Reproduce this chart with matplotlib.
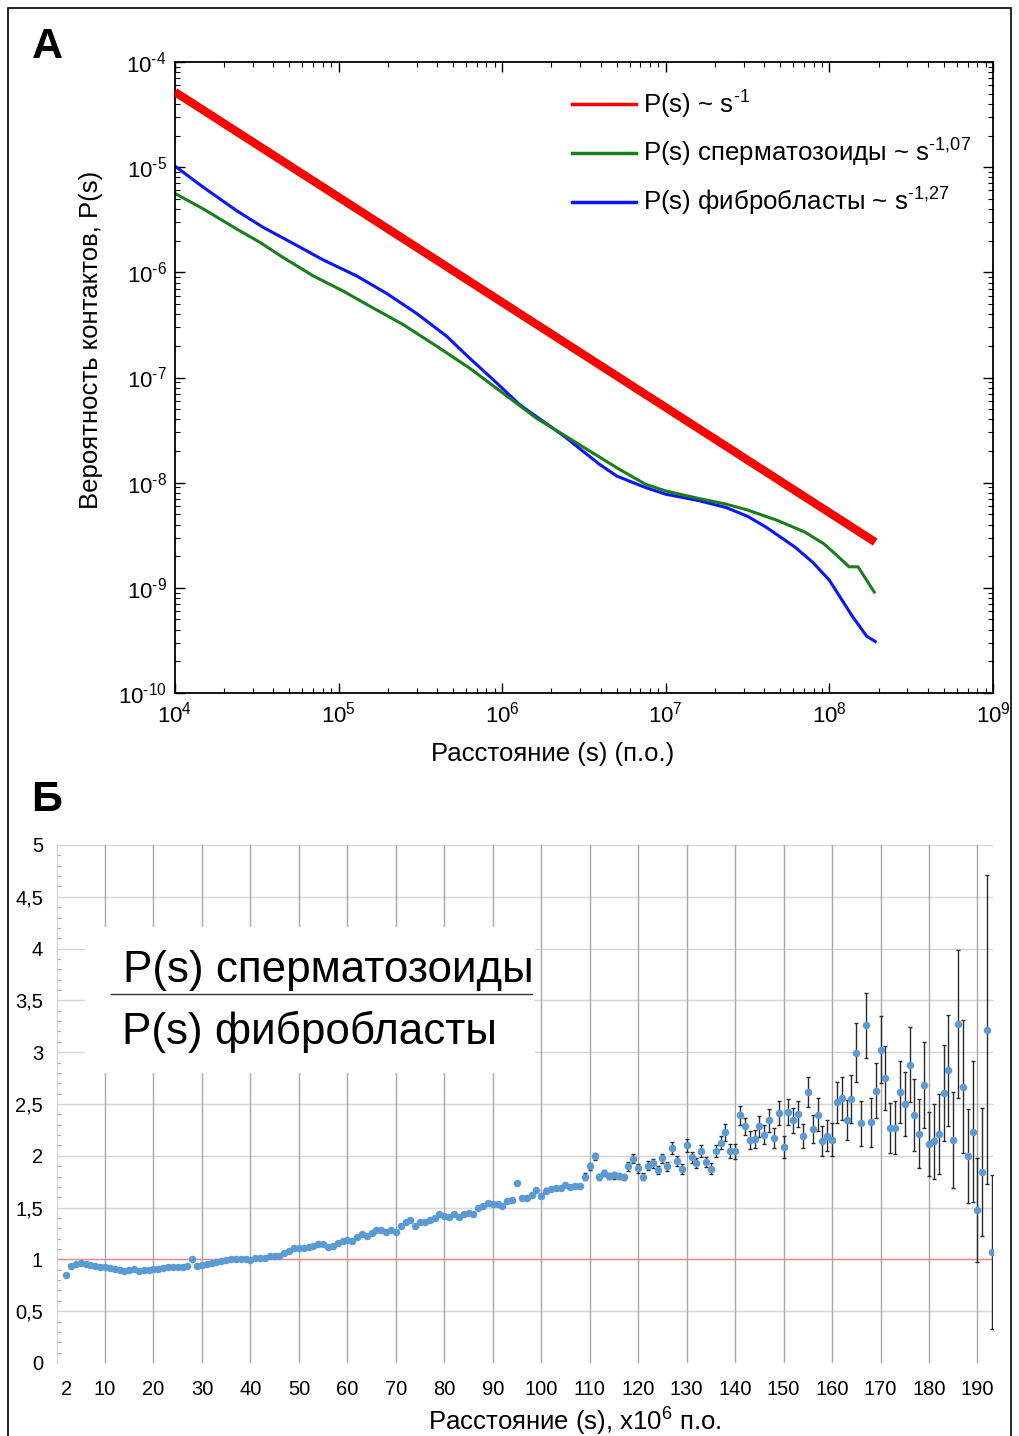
import numpy as np
import matplotlib
matplotlib.use('Agg')
import matplotlib.pyplot as plt
from matplotlib.patches import Rectangle
from matplotlib.lines import Line2D
from matplotlib.ticker import LogLocator, MultipleLocator, NullFormatter, FuncFormatter

plt.rcParams['font.family'] = ['Liberation Sans', 'DejaVu Sans']
plt.rcParams['mathtext.fontset'] = 'custom'
plt.rcParams['mathtext.rm'] = 'Liberation Sans'
plt.rcParams['mathtext.it'] = 'Liberation Sans'
plt.rcParams['mathtext.default'] = 'regular'
plt.rcParams['axes.unicode_minus'] = False

# ---- panel A: P(s) curves (log10 values) ----
red_log_s = [4.0, 8.28]
red_log_p = [-4.285, -8.565]

sperm_log_s = [4.0, 4.173, 4.377, 4.52, 4.662, 4.845, 5.028, 5.19, 5.394, 5.60,
               5.80, 6.005, 6.21, 6.38, 6.70, 6.877, 7.0, 7.2, 7.368, 7.5,
               7.684, 7.85, 7.965, 8.035, 8.12, 8.175, 8.274]
sperm_log_p = [-5.25, -5.397, -5.588, -5.716, -5.86, -6.034, -6.178, -6.321, -6.496, -6.703,
               -6.91, -7.149, -7.388, -7.55, -7.858, -8.016, -8.079, -8.15, -8.204, -8.26,
               -8.36, -8.47, -8.58, -8.676, -8.80, -8.80, -9.04]

fibro_log_s = [4.0, 4.173, 4.377, 4.54, 4.723, 4.906, 5.11, 5.293, 5.476, 5.66,
               5.80, 5.945, 6.108, 6.38, 6.596, 6.70, 6.877, 7.0, 7.2, 7.368,
               7.5, 7.614, 7.79, 7.9, 8.0, 8.14, 8.228, 8.28]
fibro_log_p = [-4.99, -5.191, -5.414, -5.573, -5.726, -5.882, -6.034, -6.2, -6.39, -6.607,
               -6.815, -7.021, -7.26, -7.56, -7.827, -7.937, -8.047, -8.11, -8.17, -8.236,
               -8.32, -8.424, -8.613, -8.76, -8.928, -9.27, -9.46, -9.51]

# ---- panel B: ratio sperm / fibroblasts, one point per Mb (2..193) ----
ratio_x = np.arange(2, 194)
ratio = [0.85, 0.935, 0.96, 0.97, 0.96, 0.945, 0.935, 0.93, 0.926,              # 2-10
         0.92, 0.91, 0.897, 0.89, 0.897, 0.906, 0.89, 0.90, 0.90, 0.91,          # 11-20
         0.906, 0.916, 0.926, 0.923, 0.926, 0.93, 0.94, 1.0, 0.94, 0.945,        # 21-30
         0.955, 0.968, 0.975, 0.987, 0.997, 1.0, 1.0, 1.003, 1.003, 0.994,       # 31-40
         1.013, 1.016, 1.013, 1.03, 1.035, 1.032, 1.058, 1.084, 1.106, 1.11,     # 41-50
         1.11, 1.123, 1.13, 1.148, 1.148, 1.123, 1.13, 1.16, 1.175, 1.187,       # 51-60
         1.178, 1.218, 1.242, 1.226, 1.252, 1.284, 1.284, 1.268, 1.28, 1.268,    # 61-70
         1.326, 1.365, 1.38, 1.323, 1.36, 1.365, 1.38, 1.403, 1.435, 1.42,       # 71-80
         1.406, 1.435, 1.413, 1.439, 1.45, 1.439, 1.497, 1.52, 1.548, 1.535,     # 81-90
         1.535, 1.516, 1.568, 1.574, 1.735, 1.597, 1.594, 1.623, 1.671, 1.616,   # 91-100
         1.665, 1.68, 1.687, 1.687, 1.716, 1.697, 1.706, 1.712, 1.8, 1.897,      # 101-110
         1.994, 1.793, 1.836, 1.806, 1.81, 1.806, 1.798, 1.897, 1.972, 1.878,    # 111-120
         1.8, 1.906, 1.926, 1.865, 1.974, 1.897, 2.074, 1.952, 1.871, 2.1,       # 121-130
         1.984, 1.929, 2.048, 1.942, 1.877, 2.048, 2.126, 2.226, 2.048, 2.042,   # 131-140
         2.39, 2.284, 2.155, 2.165, 2.284, 2.203, 2.342, 2.171, 2.413, 2.082,    # 141-150
         2.42, 2.342, 2.406, 2.19, 2.616, 2.26, 2.395, 2.145, 2.194, 2.155,      # 151-160
         2.516, 2.555, 2.342, 2.548, 2.997, 2.313, 3.258, 2.323, 2.63, 3.026,    # 161-170
         2.75, 2.27, 2.27, 2.616, 2.5, 2.88, 2.397, 2.213, 2.687, 2.113,         # 171-180
         2.139, 2.21, 2.606, 2.826, 2.152, 3.274, 2.668, 2.0, 2.232, 1.477,      # 181-190
         1.845, 3.216, 1.071]                                                    # 191-193
ratio_err = [0.01, 0.01, 0.01, 0.01, 0.01, 0.01, 0.01, 0.01, 0.01,
             0.01, 0.01, 0.01, 0.01, 0.01, 0.01, 0.01, 0.01, 0.01, 0.01,
             0.01, 0.01, 0.01, 0.01, 0.01, 0.01, 0.01, 0.01, 0.01, 0.01,
             0.01, 0.01, 0.01, 0.01, 0.01, 0.01, 0.01, 0.01, 0.01, 0.01,
             0.01, 0.01, 0.01, 0.01, 0.01, 0.01, 0.01, 0.01, 0.01, 0.01,
             0.01, 0.01, 0.01, 0.01, 0.01, 0.01, 0.01, 0.01, 0.01, 0.01,
             0.015, 0.015, 0.015, 0.015, 0.015, 0.015, 0.015, 0.015, 0.015, 0.015,
             0.015, 0.015, 0.015, 0.015, 0.015, 0.015, 0.015, 0.015, 0.015, 0.015,
             0.015, 0.015, 0.015, 0.015, 0.015, 0.015, 0.015, 0.015, 0.015, 0.015,
             0.015, 0.015, 0.015, 0.015, 0.015, 0.015, 0.015, 0.015, 0.015, 0.015,
             0.02, 0.02, 0.02, 0.02, 0.02, 0.02, 0.02, 0.02, 0.03, 0.03,
             0.035, 0.03, 0.03, 0.03, 0.03, 0.03, 0.03, 0.04, 0.045, 0.04,
             0.035, 0.04, 0.04, 0.04, 0.045, 0.045, 0.055, 0.05, 0.05, 0.06,
             0.05, 0.05, 0.055, 0.05, 0.05, 0.06, 0.065, 0.08, 0.07, 0.07,
             0.095, 0.085, 0.085, 0.085, 0.1, 0.09, 0.11, 0.1, 0.12, 0.105,
             0.124, 0.121, 0.126, 0.116, 0.145, 0.132, 0.16, 0.145, 0.152, 0.161,
             0.197, 0.21, 0.192, 0.23, 0.282, 0.219, 0.316, 0.239, 0.268, 0.319,
             0.306, 0.239, 0.255, 0.303, 0.306, 0.365, 0.348, 0.331, 0.415, 0.31,
             0.365, 0.384, 0.466, 0.537, 0.466, 0.715, 0.64, 0.453, 0.682, 0.502,
             0.619, 1.49, 0.747]

x_ticks_b = [2, 10, 20, 30, 40, 50, 60, 70, 80, 90, 100,
             110, 120, 130, 140, 150, 160, 170, 180, 190]
y_ticks_b = [0, 0.5, 1, 1.5, 2, 2.5, 3, 3.5, 4, 4.5, 5]


def pow10_label(v, pos):
    e = int(round(np.log10(v)))
    if e < 0:
        return r'10$^{\text{-%d}}$' % (-e)
    return r'10$^{%d}$' % e


W, H = 1019, 1436
fig = plt.figure(figsize=(W / 100, H / 100), dpi=100)

# outer frame
fig.patches.append(Rectangle((8 / W, -0.01), (1011 - 8) / W, 1.01 - 8 / H,
                             transform=fig.transFigure, fill=False,
                             edgecolor='black', lw=1.2))

# ================= panel A =================
ax1 = fig.add_axes([175 / W, 1 - 693 / H, (993 - 175) / W, (693 - 62) / H])
ax1.set_xscale('log')
ax1.set_yscale('log')

ax1.plot(10 ** np.array(red_log_s), 10 ** np.array(red_log_p),
         color='#ff0000', lw=6, solid_capstyle='butt', zorder=3)
ax1.plot(10 ** np.array(fibro_log_s), 10 ** np.array(fibro_log_p),
         color='#0a14ff', lw=2.2, zorder=2)
ax1.plot(10 ** np.array(sperm_log_s), 10 ** np.array(sperm_log_p),
         color='#1a7f1a', lw=2.2, zorder=2.1)

ax1.set_xlim(1e4, 1e9)
ax1.set_ylim(1e-10, 1e-4)
ax1.xaxis.set_major_locator(LogLocator(base=10, numticks=12))
ax1.yaxis.set_major_locator(LogLocator(base=10, numticks=12))
ax1.xaxis.set_minor_locator(LogLocator(base=10, subs=np.arange(2, 10), numticks=12))
ax1.yaxis.set_minor_locator(LogLocator(base=10, subs=np.arange(2, 10), numticks=12))
ax1.xaxis.set_major_formatter(FuncFormatter(pow10_label))
ax1.yaxis.set_major_formatter(FuncFormatter(pow10_label))
ax1.xaxis.set_minor_formatter(NullFormatter())
ax1.yaxis.set_minor_formatter(NullFormatter())
ax1.tick_params(which='both', direction='in', top=True, right=True)
ax1.tick_params(which='major', length=7, width=1, labelsize=16, pad=6)
ax1.tick_params(which='minor', length=3.5, width=0.8)
for sp in ax1.spines.values():
    sp.set_linewidth(1.3)

ax1.set_ylabel('Вероятность контактов, P(s)', fontsize=18.5)
ax1.yaxis.set_label_coords(-0.088, 0.559)
ax1.set_xlabel('Расстояние (s) (п.о.)', fontsize=18.5)
ax1.xaxis.set_label_coords(0.462, -0.078)

h1 = Line2D([], [], color='#ff0000', lw=2.5)
h2 = Line2D([], [], color='#1a7f1a', lw=2.5)
h3 = Line2D([], [], color='#0a14ff', lw=2.5)
leg = ax1.legend([h1, h2, h3],
                 [r'P(s) ~ s$^{\text{-1}}$',
                  r'P(s) сперматозоиды ~ s$^{\text{-1,07}}$',
                  r'P(s) фибробласты ~ s$^{\text{-1,27}}$'],
                 loc='upper left', bbox_to_anchor=(0.485, 0.958),
                 frameon=False, fontsize=18.6, handlelength=2.48,
                 handletextpad=0.28, labelspacing=0.64,
                 borderpad=0, borderaxespad=0)

fig.text(47 / W, 1 - 47 / H, 'А', fontsize=31, fontweight='bold',
         ha='center', va='center')

# ================= panel B =================
ax2 = fig.add_axes([57 / W, 1 - 1363 / H, (993 - 57) / W, (1363 - 845) / H])
ax2.set_xlim(0.1, 193.2)
ax2.set_ylim(0, 5)

for v in x_ticks_b[1:]:
    ax2.axvline(v, color='#a8a8a8', lw=1, zorder=0.6)
for v in y_ticks_b[1:]:
    ax2.axhline(v, color='#d6d6d6', lw=1, zorder=0.5)
ax2.axhline(1, color='#f08a8a', lw=1, zorder=0.9)

ax2.errorbar(ratio_x, ratio, yerr=ratio_err, fmt='none', ecolor='#2a2a2a',
             elinewidth=1, capsize=1.5, capthick=1, zorder=2)
ax2.plot(ratio_x, ratio, 'o', color='#5b9bd5', ms=5.4, mec='none', zorder=3)

ax2.set_xticks(x_ticks_b)
ax2.set_yticks(y_ticks_b)
ax2.set_yticklabels([('%g' % v).replace('.', ',') for v in y_ticks_b])
ax2.yaxis.set_minor_locator(MultipleLocator(0.1))
ax2.tick_params(axis='x', length=0, labelsize=14.5, pad=12)
ax2.tick_params(axis='y', which='major', length=0, labelsize=14.5, pad=10)
ax2.tick_params(axis='y', which='minor', direction='in', length=3,
                color='#b0b0b0', width=0.8)
for side in ['top', 'right', 'bottom']:
    ax2.spines[side].set_visible(False)
ax2.spines['left'].set_color('#d0d0d0')
ax2.spines['left'].set_linewidth(0.8)

ax2.set_xlabel(r'Расстояние (s), x10$^6$ п.о.', fontsize=18.5)
ax2.xaxis.set_label_coords(0.553, -0.082)

# white box with the ratio caption
ax2.add_patch(Rectangle((0.0299, 0.56), 0.481, 0.2817, transform=ax2.transAxes,
                        facecolor='white', edgecolor='none', zorder=2.5))
ax2.text(0.071, 0.736, 'P(s) сперматозоиды', transform=ax2.transAxes,
         fontsize=31.7, ha='left', va='baseline', zorder=3)
ax2.plot([0.0574, 0.508], [0.7117, 0.7117], transform=ax2.transAxes,
         color='#333333', lw=1, zorder=3)
ax2.text(0.069, 0.616, 'P(s) фибробласты', transform=ax2.transAxes,
         fontsize=31.7, ha='left', va='baseline', zorder=3)

fig.text(47 / W, 1 - 800 / H, 'Б', fontsize=31, fontweight='bold',
         ha='center', va='center')

fig.savefig('out.png', dpi=100)
